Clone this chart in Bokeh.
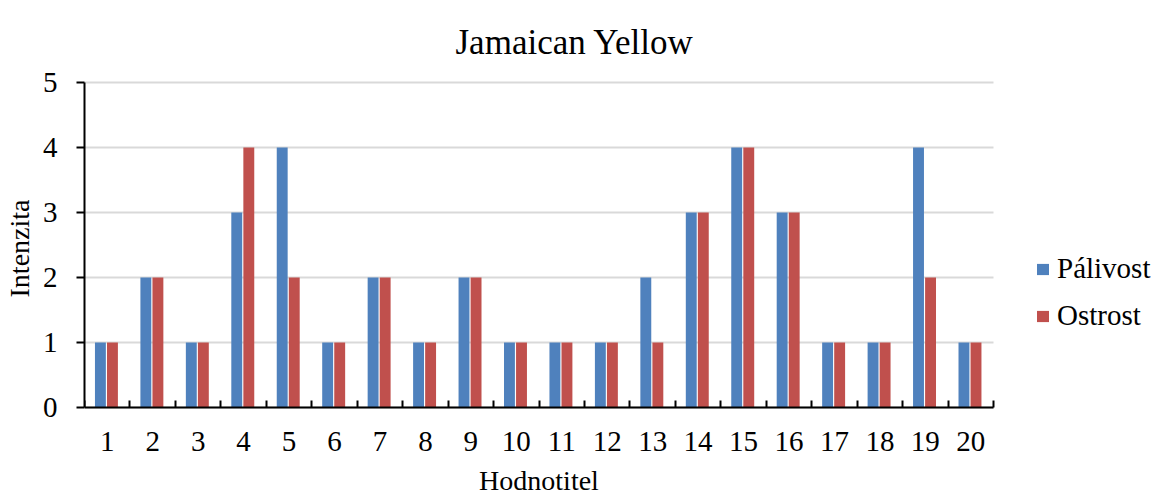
from bokeh.plotting import figure
from bokeh.models import FixedTicker, Legend, LegendItem, Range1d, ColumnDataSource, Label
from bokeh.transform import dodge
from bokeh.embed import file_html
from bokeh.resources import INLINE

categories = list(range(1, 21))
palivost = [1, 2, 1, 3, 4, 1, 2, 1, 2, 1, 1, 1, 2, 3, 4, 3, 1, 1, 4, 1]
ostrost = [1, 2, 1, 4, 2, 1, 2, 1, 2, 1, 1, 1, 1, 3, 4, 3, 1, 1, 2, 1]
series_names = ["Pálivost", "Ostrost"]
colors = ["#4F81BD", "#C0504D"]
y_ticks = [0, 1, 2, 3, 4, 5]
title_text = "Jamaican Yellow"

FONT = "Liberation Serif"

src = ColumnDataSource(dict(x=categories, a=palivost, b=ostrost))

# frame spans the whole area right of the y axis; ranges are extended so the
# scales match the reference (45.45 px per category, 65 px per unit)
x_lo, x_hi = 0.5, 20.5
x_end = x_lo + (1154 - 84) * 20 / 909
y_lo, y_hi = 0, 5
y_start = -(496 - 407) / 65.0
y_end = y_hi + 82 / 65.0

p = figure(width=1154, height=496, output_backend="svg", toolbar_location=None,
           x_range=Range1d(x_lo, x_end), y_range=Range1d(y_start, y_end),
           min_border_left=84, min_border_right=0, min_border_top=0, min_border_bottom=0)
p.outline_line_color = None
p.background_fill_color = "white"
p.title.visible = False

r1 = p.vbar(x=dodge("x", -0.15, range=p.x_range), top="a", width=0.24, bottom=0,
            source=src, fill_color=colors[0], line_color=None)
r2 = p.vbar(x=dodge("x", 0.115, range=p.x_range), top="b", width=0.24, bottom=0,
            source=src, fill_color=colors[1], line_color=None)

# title (as a screen-positioned label)
title = Label(x=371, y=496 - 42, x_units="screen", y_units="screen", text=title_text,
              text_font=FONT, text_font_size="35px", text_color="black",
              text_baseline="alphabetic", text_align="left")
p.add_layout(title)

# x axis
xt = FixedTicker(ticks=categories, minor_ticks=[c + 0.5 for c in [0] + categories])
p.xaxis.fixed_location = 0
p.xaxis.bounds = (x_lo, x_hi)
p.xaxis.ticker = xt
p.xaxis.major_tick_in = 0
p.xaxis.major_tick_out = 0
p.xaxis.minor_tick_in = 7
p.xaxis.minor_tick_out = 0
p.xaxis.minor_tick_line_color = "black"
p.xaxis.minor_tick_line_width = 2
p.xaxis.axis_line_width = 2
p.xaxis.axis_line_color = "black"
p.xaxis.major_label_text_font = FONT
p.xaxis.major_label_text_font_size = "29px"
p.xaxis.major_label_text_color = "black"
p.xaxis.major_label_standoff = 24
p.xaxis.axis_label = "Hodnotitel"
p.xaxis.axis_label_text_font = FONT
p.xaxis.axis_label_text_font_size = "28px"
p.xaxis.axis_label_text_font_style = "normal"
p.xaxis.axis_label_text_color = "black"
p.xaxis.axis_label_standoff = 11

# y axis
p.yaxis.bounds = (y_lo, y_hi)
p.yaxis.ticker = FixedTicker(ticks=y_ticks, minor_ticks=[])
p.yaxis.major_tick_in = 0
p.yaxis.major_tick_out = 8
p.yaxis.major_tick_line_width = 2
p.yaxis.axis_line_width = 2
p.yaxis.axis_line_color = "black"
p.yaxis.major_label_text_font = FONT
p.yaxis.major_label_text_font_size = "29px"
p.yaxis.major_label_text_color = "black"
p.yaxis.major_label_standoff = 19
p.yaxis.axis_label = "Intenzita"
p.yaxis.axis_label_text_font = FONT
p.yaxis.axis_label_text_font_size = "28px"
p.yaxis.axis_label_text_font_style = "normal"
p.yaxis.axis_label_text_color = "black"
p.yaxis.axis_label_standoff = 5

p.xgrid.grid_line_color = None
p.ygrid.grid_line_color = "#D9D9D9"
p.ygrid.grid_line_width = 2
p.ygrid.bounds = (y_lo, y_hi)
p.ygrid.cross_bounds = (x_lo, x_hi)

legend = Legend(items=[LegendItem(label=series_names[0], renderers=[r1]),
                       LegendItem(label=series_names[1], renderers=[r2])],
                location=(951, 164), orientation="vertical", margin=0,
                label_text_font=FONT, label_text_font_size="29px",
                label_text_color="black",
                glyph_width=15, glyph_height=14, label_standoff=7,
                label_height=30, spacing=14, padding=0, border_line_color=None,
                background_fill_alpha=0)
p.add_layout(legend, "center")

open("out.html", "w").write(file_html(p, INLINE))
